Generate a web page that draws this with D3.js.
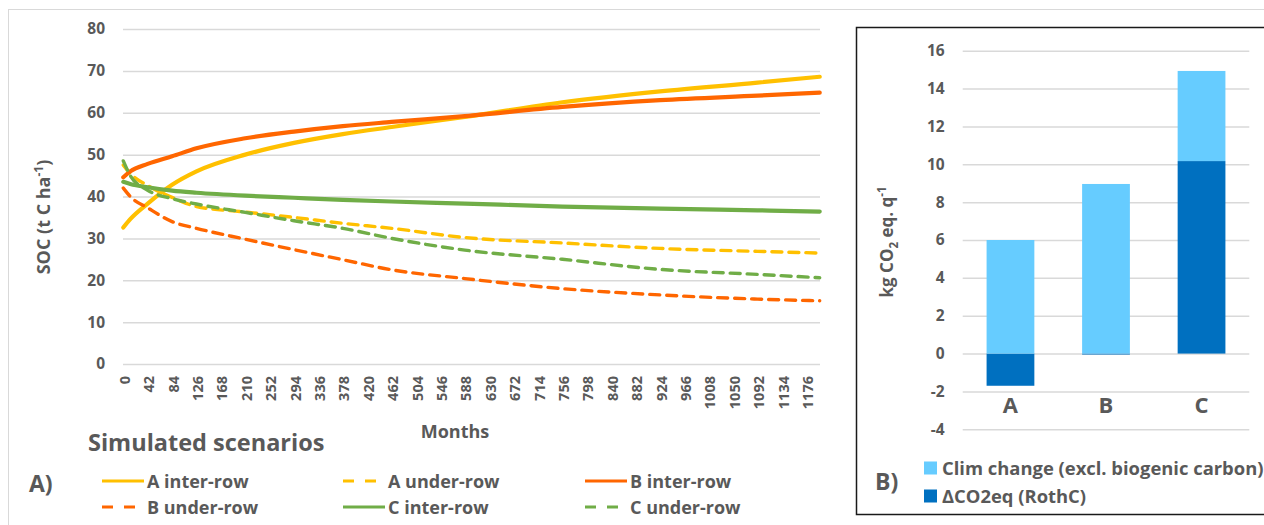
<!DOCTYPE html>
<html>
<head>
<meta charset="utf-8">
<script src="https://cdn.jsdelivr.net/npm/d3@7/dist/d3.min.js"></script>
<style>
  body { margin: 0; background: #fff; }
  svg { display: block; font-family: "Open Sans", Lato, sans-serif; font-weight: 700; }
  .tick text { fill: #595959; }
</style>
</head>
<body>
<svg id="chart" width="1264" height="525"></svg>
<script>
// ---- data: panel A (SOC, t C/ha) ----
var months = [0, 12, 42, 84, 126, 210, 294, 378, 462, 588, 756, 924, 1092, 1199];
var aInter = [32.6, 34.6, 38.3, 42.8, 46.0, 50.0, 52.8, 54.9, 56.6, 59.0, 62.5, 65.1, 67.2, 68.6];
var aUnder = [47.5, 45.5, 42.6, 39.8, 37.6, 36.3, 35.0, 33.6, 32.4, 30.2, 28.9, 27.6, 26.9, 26.5];
var bInter = [44.6, 46.0, 47.8, 49.6, 51.5, 53.9, 55.5, 56.8, 57.8, 59.2, 61.4, 63.0, 64.1, 64.8];
var bUnder = [42.0, 40.0, 37.3, 34.0, 32.4, 29.8, 27.3, 24.9, 22.5, 20.4, 18.0, 16.5, 15.5, 15.1];
var cInter = [43.5, 43.0, 42.2, 41.4, 40.9, 40.2, 39.7, 39.2, 38.8, 38.3, 37.6, 37.1, 36.7, 36.4];
var cUnder = [48.5, 45.0, 41.5, 39.5, 38.2, 36.2, 34.2, 32.4, 30.0, 27.2, 25.0, 22.6, 21.4, 20.6];

var seriesNames = ["A inter-row", "A under-row", "B inter-row", "B under-row", "C inter-row", "C under-row"];
var seriesValues = [aInter, aUnder, bInter, bUnder, cInter, cUnder];
var seriesColors = ["#FFC000", "#FFC000", "#FF6600", "#FF6600", "#70AD47", "#70AD47"];
var seriesDashed = [false, true, false, true, false, true];

var socTicks = [0, 10, 20, 30, 40, 50, 60, 70, 80];
var monthTicks = [0, 42, 84, 126, 168, 210, 252, 294, 336, 378, 420, 462, 504, 546, 588, 630,
    672, 714, 756, 798, 840, 882, 924, 966, 1008, 1050, 1092, 1134, 1176];

// ---- data: panel B (kg CO2 eq. per q) ----
var scenarios = ["A", "B", "C"];
var climChange = [6.0, 8.96, 4.76];
var deltaCO2 = [-1.7, -0.05, 10.17];
var co2Ticks = [-4, -2, 0, 2, 4, 6, 8, 10, 12, 14, 16];

var grey = "#595959";
var grid = "#D9D9D9";
var plain = function(d) { return String(d); };   // no thousands comma, plain hyphen minus
var svg = d3.select("#chart");

// outer frame
svg.append("rect")
    .attr("x", 8.5).attr("y", 9.5).attr("width", 1400).attr("height", 700)
    .attr("fill", "none").attr("stroke", grid);

// ================= panel A =================
var x = d3.scaleLinear().domain([-0.5, 1199.5]).range([123, 820]);
var y = d3.scaleLinear().domain([0, 80]).range([364, 29]);

var yAxis = svg.append("g")
    .attr("transform", "translate(123,0)")
    .call(d3.axisLeft(y).tickValues(socTicks).tickFormat(plain).tickSize(-(820 - 123)).tickPadding(18));
yAxis.select(".domain").remove();
yAxis.selectAll(".tick line").attr("stroke", grid).attr("stroke-width", 1.5);
yAxis.selectAll(".tick text").style("font-size", "15.5px").style("font-family", "Open Sans").style("font-weight", 700);

var xAxis = svg.append("g")
    .attr("transform", "translate(0,364)")
    .call(d3.axisBottom(x).tickValues(monthTicks).tickFormat(plain).tickSize(0));
xAxis.select(".domain").remove();
xAxis.selectAll(".tick text")
    .attr("transform", "rotate(-90)")
    .attr("text-anchor", "end")
    .attr("x", -12).attr("y", 1).attr("dy", "0.35em")
    .style("font-size", "14.5px").style("font-family", "Open Sans").style("font-weight", 700);

var line = d3.line()
    .x(function(d) { return x(d[0]); })
    .y(function(d) { return y(d[1]); })
    .curve(d3.curveMonotoneX);

seriesValues.forEach(function(vals, i) {
    var pts = months.map(function(m, j) { return [m, vals[j]]; });
    svg.append("path")
        .datum(pts)
        .attr("d", line)
        .attr("fill", "none")
        .attr("stroke", seriesColors[i])
        .attr("stroke-width", seriesDashed[i] ? 3.4 : 4.2)
        .attr("stroke-dasharray", seriesDashed[i] ? "10,7" : null)
        .attr("stroke-linecap", "round");
});

// axis titles
svg.append("text")
    .attr("x", 455).attr("y", 438)
    .attr("text-anchor", "middle").attr("fill", grey)
    .style("font-size", "18px")
    .text("Months");

var socTitle = svg.append("text")
    .attr("transform", "translate(50,217) rotate(-90)")
    .attr("text-anchor", "middle").attr("fill", grey)
    .style("font-size", "18px");
socTitle.append("tspan").text("SOC (t C ha");
socTitle.append("tspan").attr("dy", -7).style("font-size", "12px").text("-1");
socTitle.append("tspan").attr("dy", 7).text(")");

// legend A
svg.append("text")
    .attr("x", 88).attr("y", 451).attr("fill", grey)
    .style("font-size", "23.5px")
    .text("Simulated scenarios");

var legCols = [102, 343, 585];
var legRows = [481, 507];
seriesNames.forEach(function(name, i) {
    var lx = legCols[i % 3], ly = legRows[Math.floor(i / 3)];
    svg.append("line")
        .attr("x1", lx).attr("x2", lx + 42)
        .attr("y1", ly).attr("y2", ly)
        .attr("stroke", seriesColors[i])
        .attr("stroke-width", 3.2)
        .attr("stroke-dasharray", seriesDashed[i] ? "11,11" : null);
    svg.append("text")
        .attr("x", lx + 45).attr("y", ly + 6.5)
        .attr("fill", grey)
        .style("font-size", "18px")
        .text(name);
});

svg.append("text")
    .attr("x", 29).attr("y", 492).attr("fill", grey)
    .style("font-size", "23px")
    .text("A)");

// ================= panel B =================
svg.append("rect")
    .attr("x", 856.5).attr("y", 27.5).attr("width", 500).attr("height", 487)
    .attr("fill", "#fff").attr("stroke", "#1a1a1a").attr("stroke-width", 1.5);

var xb = d3.scaleBand().domain(scenarios).range([962.7, 1249.3]).paddingInner(0.5).paddingOuter(0.25);
var yb = d3.scaleLinear().domain([-4, 16]).range([429.3, 50.7]);

var ybAxis = svg.append("g")
    .attr("transform", "translate(962.7,0)")
    .call(d3.axisLeft(yb).tickValues(co2Ticks).tickFormat(plain).tickSize(-(1249.3 - 962.7)).tickPadding(18));
ybAxis.select(".domain").remove();
ybAxis.selectAll(".tick line").attr("stroke", grid).attr("stroke-width", 1.5);
ybAxis.selectAll(".tick text").style("font-size", "15.5px").style("font-family", "Open Sans").style("font-weight", 700);

var barRows = scenarios.map(function(s, i) {
    return { scenario: s, dco2: deltaCO2[i], clim: climChange[i] };
});
var stack = d3.stack().keys(["dco2", "clim"]).offset(d3.stackOffsetDiverging);
var barColors = { dco2: "#0070C0", clim: "#66CCFF" };

svg.append("g")
    .selectAll("g")
    .data(stack(barRows))
    .join("g")
    .attr("fill", function(d) { return barColors[d.key]; })
    .selectAll("rect")
    .data(function(d) { return d; })
    .join("rect")
    .attr("x", function(d) { return xb(d.data.scenario); })
    .attr("width", xb.bandwidth())
    .attr("y", function(d) { return yb(d[1]); })
    .attr("height", function(d) { return Math.max(0.8, yb(d[0]) - yb(d[1])); });

svg.append("g")
    .selectAll("text")
    .data(scenarios)
    .join("text")
    .attr("x", function(d) { return xb(d) + xb.bandwidth() / 2; })
    .attr("y", 413)
    .attr("text-anchor", "middle").attr("fill", grey)
    .style("font-size", "22px")
    .text(function(d) { return d; });

var co2Title = svg.append("text")
    .attr("transform", "translate(893,242) rotate(-90)")
    .attr("text-anchor", "middle").attr("fill", grey)
    .style("font-size", "17px");
co2Title.append("tspan").text("kg CO");
co2Title.append("tspan").attr("dy", 5).style("font-size", "11.5px").text("2");
co2Title.append("tspan").attr("dy", -5).text(" eq. q");
co2Title.append("tspan").attr("dy", -7).style("font-size", "11.5px").text("-1");

// legend B
var legB = [["Clim change (excl. biogenic carbon)", "clim", 468], ["\u0394CO2eq (RothC)", "dco2", 496]];
legB.forEach(function(l) {
    svg.append("rect")
        .attr("x", 924).attr("y", l[2] - 6.5).attr("width", 13).attr("height", 13)
        .attr("fill", barColors[l[1]]);
    svg.append("text")
        .attr("x", 942).attr("y", l[2] + 7)
        .attr("fill", grey)
        .style("font-size", "18.4px")
        .text(l[0]);
});

svg.append("text")
    .attr("x", 875).attr("y", 490).attr("fill", grey)
    .style("font-size", "23px")
    .text("B)");
</script>
</body>
</html>
